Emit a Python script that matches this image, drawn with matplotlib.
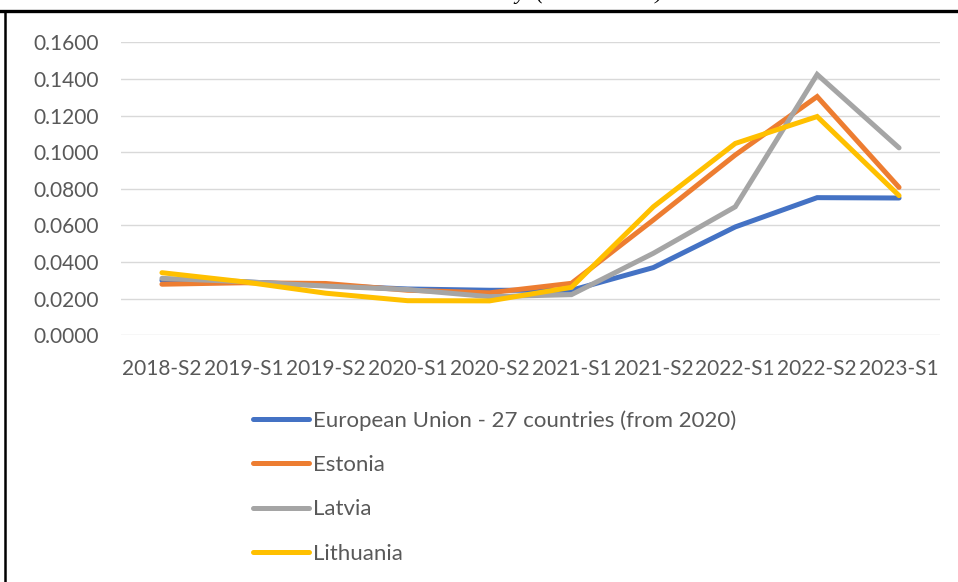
import matplotlib
matplotlib.use("Agg")
import matplotlib.pyplot as plt
from matplotlib.lines import Line2D

categories = ['2018-S2', '2019-S1', '2019-S2', '2020-S1', '2020-S2',
              '2021-S1', '2021-S2', '2022-S1', '2022-S2', '2023-S1']
eu27 = [0.0300, 0.0292, 0.0272, 0.0253, 0.0246, 0.0246, 0.0370, 0.0592, 0.0752, 0.0750]
estonia = [0.0279, 0.0287, 0.0283, 0.0246, 0.0232, 0.0284, 0.0630, 0.0985, 0.1304, 0.0808]
latvia = [0.0311, 0.0293, 0.0269, 0.0250, 0.0211, 0.0222, 0.0448, 0.0702, 0.1425, 0.1024]
lithuania = [0.0342, 0.0292, 0.0230, 0.0189, 0.0188, 0.0262, 0.0702, 0.1048, 0.1195, 0.0763]
series_names = ['European Union - 27 countries (from 2020)', 'Estonia', 'Latvia', 'Lithuania']
yticks = [0.0, 0.02, 0.04, 0.06, 0.08, 0.10, 0.12, 0.14, 0.16]

colors = ['#4472C4', '#ED7D31', '#A5A5A5', '#FFC000']
font = ['Lato', 'DejaVu Sans']
tick_color = '#595959'

W, H = 958, 582
fig = plt.figure(figsize=(W / 100, H / 100), dpi=100)
ax = fig.add_axes([121 / W, 1 - 335.3 / H, (940 - 121) / W, (335.3 - 42.4) / H])

x = list(range(len(categories)))
for vals, name, c in zip([eu27, estonia, latvia, lithuania], series_names, colors):
    ax.plot(x, vals, color=c, lw=3.6, label=name, solid_capstyle='round',
            solid_joinstyle='miter')

ax.set_xlim(-0.5, len(categories) - 0.5)
ax.set_ylim(0, 0.16)
ax.set_yticks(yticks)
ax.set_yticklabels([f'{v:.4f}' for v in yticks])
ax.set_xticks(x)
ax.set_xticklabels(categories)
ax.grid(axis='y', color='#D9D9D9', lw=1.0)
ax.set_axisbelow(True)
for s in ax.spines.values():
    s.set_visible(False)
ax.tick_params(length=0, colors=tick_color, labelsize=15)
ax.tick_params(axis='y', pad=16)
ax.tick_params(axis='x', pad=17)
for lab in ax.get_xticklabels() + ax.get_yticklabels():
    lab.set_family(font)

leg = fig.legend(loc='upper left', bbox_to_anchor=(253 / W, 1 - 410 / H),
                 frameon=False, ncol=1, handlelength=2.5, handletextpad=0.2,
                 labelspacing=1.1, prop={'family': font, 'size': 16},
                 borderaxespad=0, borderpad=0)
for t in leg.get_texts():
    t.set_color(tick_color)

# document frame (table border) and cut-off caption above the chart
fig.add_artist(Line2D([0, 1], [1 - 10.8 / H, 1 - 10.8 / H], transform=fig.transFigure,
                      color='black', lw=2.4))
fig.add_artist(Line2D([4.5 / W, 4.5 / W], [0, 1 - 10.8 / H], transform=fig.transFigure,
                      color='black', lw=1.8))
fig.text(663 / W, 1 + 1.0 / H, 'Electricity  (EUR in kWh)', ha='right', va='baseline',
         family=['Liberation Serif', 'DejaVu Serif'], style='italic', fontsize=16)

fig.savefig('out.png', dpi=100)
